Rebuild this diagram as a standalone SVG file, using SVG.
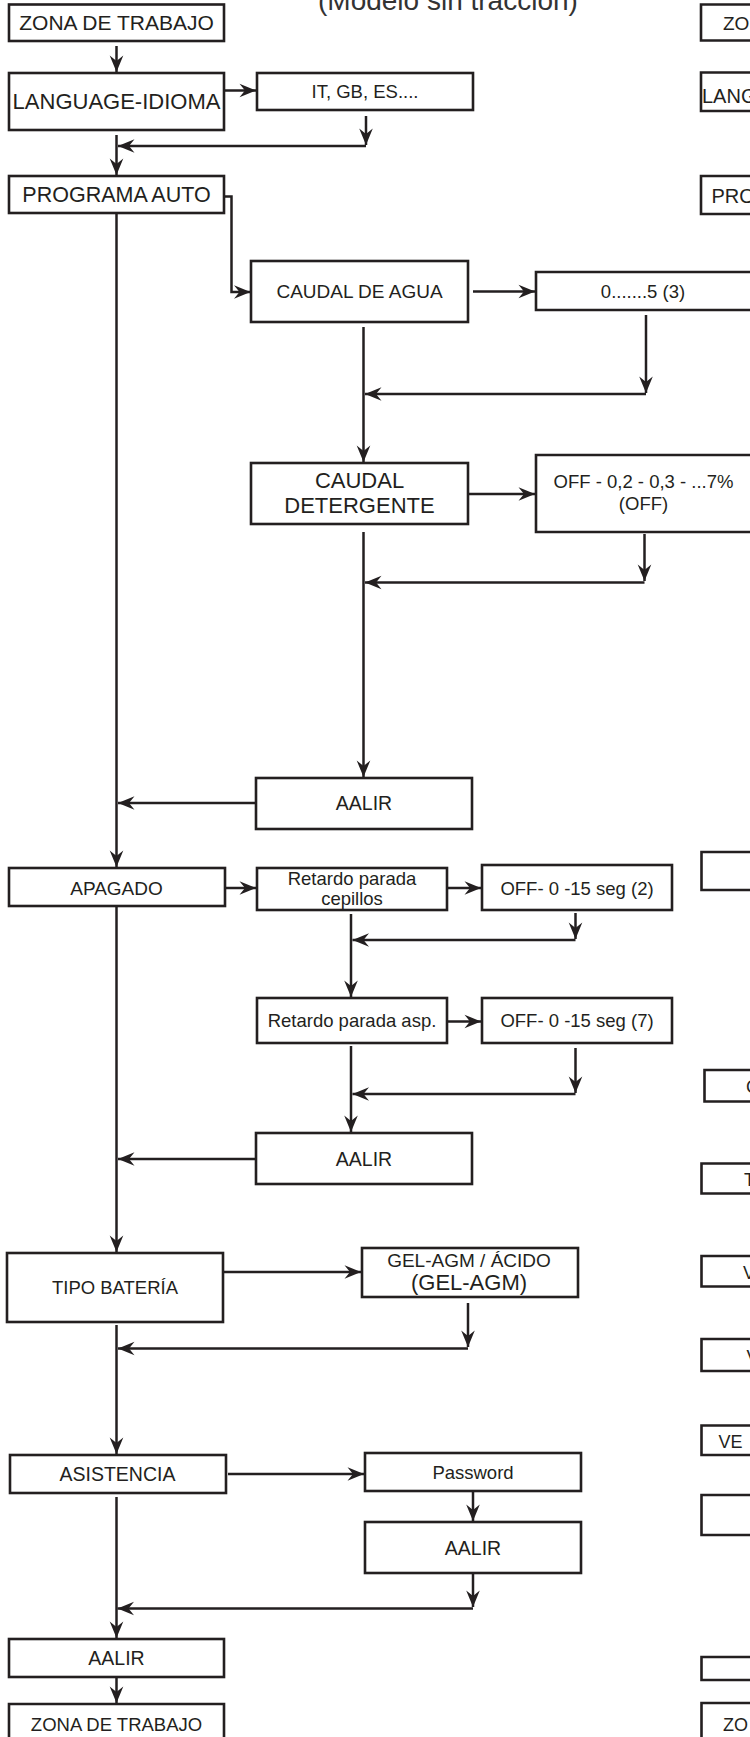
<svg xmlns="http://www.w3.org/2000/svg" width="750" height="1737" viewBox="0 0 750 1737">
<defs>
<style>
.box{fill:#fff;stroke:#231f20;stroke-width:2.6}
.open{fill:none;stroke:#231f20;stroke-width:2.6}
text{font-family:"Liberation Sans",Arial,sans-serif;fill:#231f20}
.m{text-anchor:middle}
.s{font-size:18.5px}
.l{font-size:21.5px}
.n{font-size:19.5px}
#connectors path{fill:none;stroke:#231f20;stroke-width:2.5}
#connectors path.a{marker-end:url(#ah)}
</style>
<marker id="ah" viewBox="-18 -8 19 16" refX="0" refY="0" markerWidth="19" markerHeight="16" markerUnits="userSpaceOnUse" orient="auto">
<path d="M0,0 L-16.5,-6.8 L-11,0 L-16.5,6.8 Z" fill="#231f20"/>
</marker>
</defs>
<rect width="750" height="1737" fill="#fff"/>

<text x="318" y="10" style="font-size:28px;fill:#333">(Modelo sin tracción)</text>

<g id="connectors">
<path class="a" d="M116.5,46 V72"/>
<path class="a" d="M224,90.5 H256"/>
<path class="a" d="M366,116 V145"/>
<path class="a" d="M366,146 H118"/>
<path class="a" d="M116.5,135 V175"/>
<path class="a" d="M224,196.5 H231.5 V292 H250.5"/>
<path class="a" d="M116.5,213 V867"/>
<path class="a" d="M473,291.5 H535"/>
<path class="a" d="M646,315 V393"/>
<path class="a" d="M646,394 H365"/>
<path class="a" d="M363.5,327 V462"/>
<path class="a" d="M469,494 H535"/>
<path class="a" d="M644.5,534 V581"/>
<path class="a" d="M644.5,582.5 H365"/>
<path class="a" d="M363.5,532 V777"/>
<path class="a" d="M256,803 H118"/>
<path class="a" d="M225,888 H256"/>
<path class="a" d="M447,888 H481"/>
<path class="a" d="M575.5,913 V939"/>
<path class="a" d="M575.5,940 H352.5"/>
<path class="a" d="M351,914 V997"/>
<path class="a" d="M447,1021.5 H481"/>
<path class="a" d="M575.5,1048 V1093"/>
<path class="a" d="M575.5,1094 H352.5"/>
<path class="a" d="M351,1046 V1132"/>
<path class="a" d="M256,1159 H118"/>
<path class="a" d="M116.5,907 V1252"/>
<path class="a" d="M223,1272 H361"/>
<path class="a" d="M468,1303 V1347"/>
<path class="a" d="M468,1348.5 H118"/>
<path class="a" d="M116.5,1325 V1454"/>
<path class="a" d="M228,1474 H364"/>
<path class="a" d="M473,1492 V1521"/>
<path class="a" d="M473,1573 V1607"/>
<path class="a" d="M473,1608.5 H117.5"/>
<path class="a" d="M116.5,1497 V1638"/>
<path class="a" d="M116.5,1677 V1703"/>
</g>

<g id="zona-top"><rect class="box" x="9" y="4.5" width="215" height="36.5"/><text class="m" x="116.5" y="30" style="font-size:21px">ZONA DE TRABAJO</text></g>
<g id="language"><rect class="box" x="9" y="73" width="215" height="57"/><text class="m" x="116.5" y="109" style="font-size:22px">LANGUAGE-IDIOMA</text></g>
<g id="idiomas"><rect class="box" x="257" y="73" width="216" height="37"/><text class="m s" x="365" y="98">IT, GB, ES....</text></g>
<g id="programa"><rect class="box" x="9" y="176" width="215" height="37"/><text class="m l" x="116.5" y="202">PROGRAMA AUTO</text></g>
<g id="caudal-agua"><rect class="box" x="251" y="261" width="217" height="61"/><text class="m" x="359.5" y="298" style="font-size:19px">CAUDAL DE AGUA</text></g>
<g id="agua-valores"><path class="open" d="M750,272 H536 V310 H750"/><text class="m s" x="643" y="298">0.......5 (3)</text></g>
<g id="caudal-det"><rect class="box" x="251" y="463" width="217" height="61"/><text class="m" x="359.5" y="488" style="font-size:22px">CAUDAL</text><text class="m" x="359.5" y="513" style="font-size:22px">DETERGENTE</text></g>
<g id="det-valores"><path class="open" d="M750,455 H536 V532 H750"/><text class="m s" x="643.5" y="488">OFF - 0,2 - 0,3 - ...7%</text><text class="m s" x="643.5" y="510">(OFF)</text></g>
<g id="aalir1"><rect class="box" x="256" y="778" width="216" height="51"/><text class="m n" x="364" y="810">AALIR</text></g>
<g id="apagado"><rect class="box" x="9" y="868" width="216" height="38"/><text class="m" x="116.5" y="894.5" style="font-size:19px">APAGADO</text></g>
<g id="ret-cepillos"><rect class="box" x="257" y="868" width="190" height="42"/><text class="m s" x="352" y="885">Retardo parada</text><text class="m s" x="352" y="905">cepillos</text></g>
<g id="off2"><rect class="box" x="482" y="865" width="190" height="45"/><text class="m s" x="577" y="895">OFF- 0 -15 seg (2)</text></g>
<g id="ret-asp"><rect class="box" x="257" y="998" width="190" height="45"/><text class="m s" x="352" y="1027">Retardo parada asp.</text></g>
<g id="off7"><rect class="box" x="482" y="998" width="190" height="45"/><text class="m s" x="577" y="1027">OFF- 0 -15 seg (7)</text></g>
<g id="aalir2"><rect class="box" x="256" y="1133" width="216" height="51"/><text class="m n" x="364" y="1166">AALIR</text></g>
<g id="tipo"><rect class="box" x="7" y="1253" width="216" height="69"/><text class="m" x="115" y="1294" style="font-size:18.5px">TIPO BATERÍA</text></g>
<g id="gel"><rect class="box" x="362" y="1248" width="216" height="49"/><text class="m" x="469" y="1267" style="font-size:19px">GEL-AGM / ÁCIDO</text><text class="m" x="469" y="1290" style="font-size:22px">(GEL-AGM)</text></g>
<g id="asistencia"><rect class="box" x="10" y="1455" width="216" height="38"/><text class="m n" x="117.5" y="1481">ASISTENCIA</text></g>
<g id="password"><rect class="box" x="365" y="1453" width="216" height="38"/><text class="m s" x="473" y="1479">Password</text></g>
<g id="aalir3"><rect class="box" x="365" y="1522" width="216" height="51"/><text class="m n" x="473" y="1555">AALIR</text></g>
<g id="aalir4"><rect class="box" x="9" y="1639" width="215" height="38"/><text class="m n" x="116.5" y="1665">AALIR</text></g>
<g id="zona-bottom"><path class="open" d="M9,1738 V1704 H224 V1738"/><text class="m s" x="116.5" y="1731">ZONA DE TRABAJO</text></g>

<g id="r-zona-top"><path class="open" d="M750,4.5 H701 V40.5 H750"/><text x="723" y="30" style="font-size:19px">ZO</text></g>
<g id="r-language"><path class="open" d="M750,72.5 H701 V111 H750"/><text x="702" y="103" style="font-size:20px">LANG</text></g>
<g id="r-programa"><path class="open" d="M750,176 H701 V214 H750"/><text x="711.5" y="203" style="font-size:20px">PRO</text></g>
<g id="r-box1"><path class="open" d="M750,852 H701.5 V890 H750"/></g>
<g id="r-box2"><path class="open" d="M750,1070 H704.5 V1101.5 H750"/><text x="746" y="1093" style="font-size:18px">C</text></g>
<g id="r-box3"><path class="open" d="M750,1163.5 H701.5 V1193.5 H750"/><text x="744" y="1186" style="font-size:18px">T</text></g>
<g id="r-box4"><path class="open" d="M750,1256 H701.5 V1286.5 H750"/><text x="743" y="1279" style="font-size:18px">V</text></g>
<g id="r-box5"><path class="open" d="M750,1339 H701.5 V1371 H750"/><text x="746.5" y="1363" style="font-size:18px">V</text></g>
<g id="r-box6"><path class="open" d="M750,1425.5 H701.5 V1455 H750"/><text x="718.5" y="1448" style="font-size:18px">VE</text></g>
<g id="r-box7"><path class="open" d="M750,1495 H701.5 V1535 H750"/></g>
<g id="r-box8"><path class="open" d="M750,1657 H701.5 V1680 H750"/></g>
<g id="r-zona-bottom"><path class="open" d="M750,1703 H701.5 V1738"/><text x="723" y="1731" style="font-size:18px">ZO</text></g>
</svg>
